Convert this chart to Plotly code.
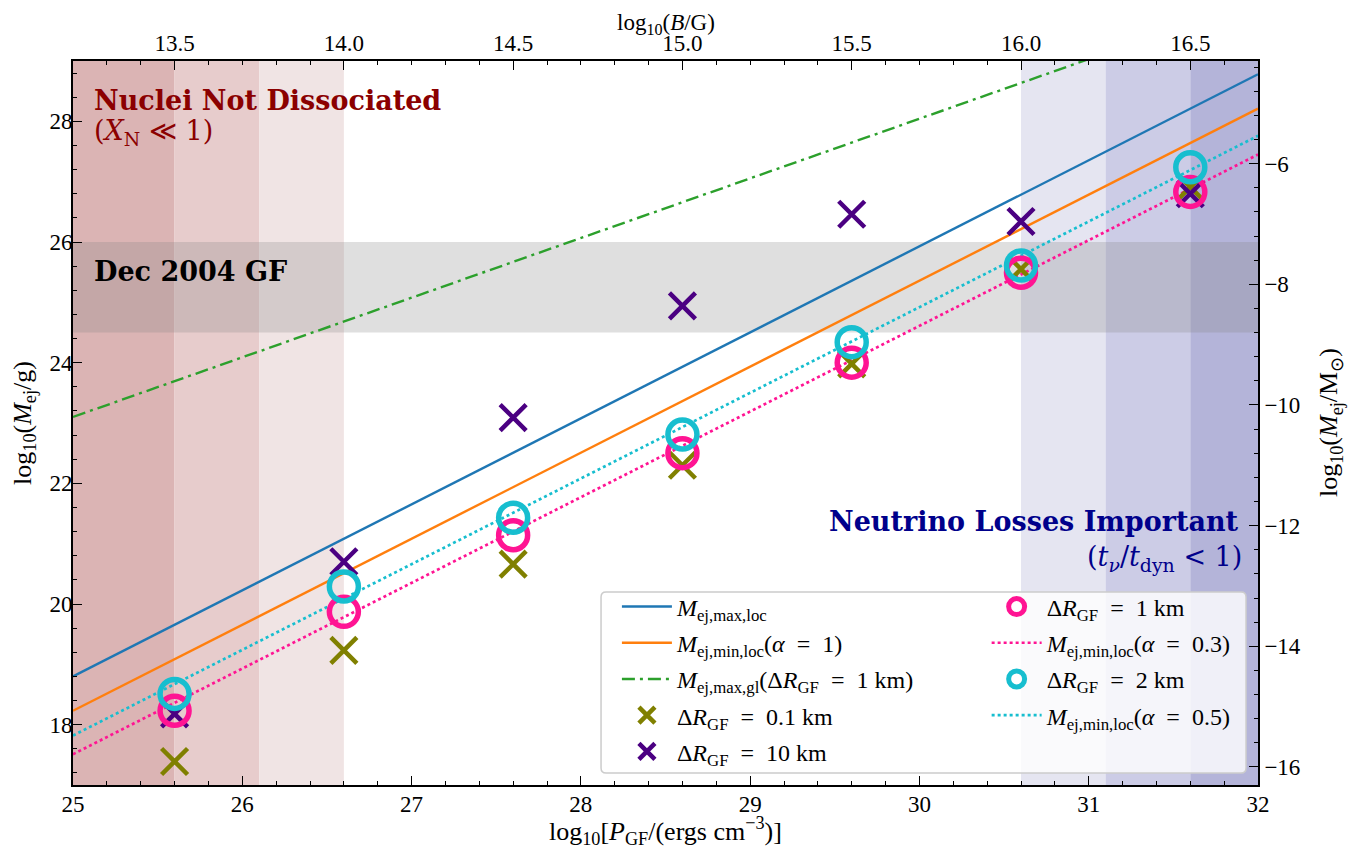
import plotly.graph_objects as go

# ---------------- data ----------------
P_MARK = [25.6, 26.6, 27.6, 28.6, 29.6, 30.6, 31.6]          # log10 P_GF of the simulated points
M_DR01 = [17.39, 19.23, 20.66, 22.30, 23.98, 25.55, 26.91]   # Delta R_GF = 0.1 km
M_DR10 = [18.18, 20.70, 23.09, 24.94, 26.46, 26.34, 26.80]   # Delta R_GF = 10 km
M_DR1 = [18.23, 19.87, 21.14, 22.50, 24.00, 25.49, 26.83]    # Delta R_GF = 1 km
M_DR2 = [18.51, 20.29, 21.43, 22.81, 24.34, 25.61, 27.24]    # Delta R_GF = 2 km

P_LINE = [25.0, 32.0]
M_MAX_LOC = [18.80, 28.78]
M_MIN_LOC_A1 = [18.23, 28.21]
M_MAX_GL = [23.10, 30.02]
M_MIN_LOC_A03 = [17.51, 27.45]
M_MIN_LOC_A05 = [17.82, 27.76]

P_RANGE = [25, 32]
B_RANGE = [13.2, 16.7]           # top axis, log10(B/G)
M_RANGE = [17, 29]
LOG_MSUN_G = 33.2986             # log10(M_sun / g)

NUCLEI_EDGES = [25.0, 25.6, 26.1, 26.6]      # red shaded bands (P)
NEUTRINO_EDGES = [30.6, 31.1, 31.6, 32.0]    # blue shaded bands (P)
GF2004_BAND = [24.5, 26.0]                   # Dec 2004 giant flare

RED_SHADES = ["rgb(219,180,180)", "rgb(231,204,204)", "rgb(240,228,228)"]
BLUE_SHADES = ["rgb(229,229,241)", "rgb(204,204,230)", "rgb(180,180,217)"]

FONT = "Liberation Serif"
BOLD_FONT = "DejaVu Serif"
EQ = "\u2002=\u2002"

X_TITLE = "log<sub>10</sub>[<i>P</i><sub>GF</sub>/(ergs cm<sup>−3</sup>)]"
X2_TITLE = "log<sub>10</sub>(<i>B</i>/G)"
Y_TITLE = "log<sub>10</sub>(<i>M</i><sub>ej</sub>/g)"
Y2_TITLE = "log<sub>10</sub>(<i>M</i><sub>ej</sub>/M<sub>⊙</sub>)"

fig = go.Figure()

# ---------------- lines ----------------
fig.add_trace(go.Scatter(x=P_LINE, y=M_MAX_LOC, mode="lines",
                         line=dict(color="#1f77b4", width=2.4),
                         name="<i>M</i><sub>ej,max,loc</sub>", legend="legend",
                         legendgroup="a", legendrank=1))
fig.add_trace(go.Scatter(x=P_LINE, y=M_MIN_LOC_A1, mode="lines",
                         line=dict(color="#ff7f0e", width=2.4),
                         name=f"<i>M</i><sub>ej,min,loc</sub>(<i>α</i>{EQ}1)", legend="legend",
                         legendgroup="b", legendrank=2))
fig.add_trace(go.Scatter(x=P_LINE, y=M_MAX_GL, mode="lines",
                         line=dict(color="#2ca02c", width=2.4, dash="13px,5px,3px,5px"),
                         name=f"<i>M</i><sub>ej,max,gl</sub>(Δ<i>R</i><sub>GF</sub>{EQ}1 km)", legend="legend",
                         legendgroup="c", legendrank=3))
fig.add_trace(go.Scatter(x=P_LINE, y=M_MIN_LOC_A03, mode="lines",
                         line=dict(color="#ff1493", width=2.7, dash="dot"),
                         name=f"<i>M</i><sub>ej,min,loc</sub>(<i>α</i>{EQ}0.3)", legend="legend2",
                         legendgroup="g", legendrank=7))
fig.add_trace(go.Scatter(x=P_LINE, y=M_MIN_LOC_A05, mode="lines",
                         line=dict(color="#17becf", width=2.7, dash="dot"),
                         name=f"<i>M</i><sub>ej,min,loc</sub>(<i>α</i>{EQ}0.5)", legend="legend2",
                         legendgroup="i", legendrank=9))

# ---------------- markers ----------------
fig.add_trace(go.Scatter(x=P_MARK, y=M_DR01, mode="markers",
                         marker=dict(symbol="x-thin", size=26, line=dict(color="olive", width=4.5)),
                         name=f"Δ<i>R</i><sub>GF</sub>{EQ}0.1 km", legend="legend",
                         legendgroup="d", legendrank=4))
fig.add_trace(go.Scatter(x=P_MARK, y=M_DR10, mode="markers",
                         marker=dict(symbol="x-thin", size=26, line=dict(color="indigo", width=4.5)),
                         name=f"Δ<i>R</i><sub>GF</sub>{EQ}10 km", legend="legend",
                         legendgroup="e", legendrank=5))
fig.add_trace(go.Scatter(x=P_MARK, y=M_DR1, mode="markers",
                         marker=dict(symbol="circle-open", size=29, color="#ff1493",
                                     line=dict(color="#ff1493", width=5.5)),
                         name=f"Δ<i>R</i><sub>GF</sub>{EQ}1 km", legend="legend2",
                         legendgroup="f", legendrank=6))
fig.add_trace(go.Scatter(x=P_MARK, y=M_DR2, mode="markers",
                         marker=dict(symbol="circle-open", size=29, color="#17becf",
                                     line=dict(color="#17becf", width=5.5)),
                         name=f"Δ<i>R</i><sub>GF</sub>{EQ}2 km", legend="legend2",
                         legendgroup="h", legendrank=8))

# invisible traces so the secondary axes are drawn
fig.add_trace(go.Scatter(x=B_RANGE, y=M_RANGE, xaxis="x2", yaxis="y", mode="markers",
                         marker=dict(opacity=0), showlegend=False, hoverinfo="skip"))
fig.add_trace(go.Scatter(x=P_RANGE, y=[m - LOG_MSUN_G for m in M_RANGE], xaxis="x", yaxis="y2",
                         mode="markers", marker=dict(opacity=0), showlegend=False, hoverinfo="skip"))

# ---------------- shaded regions ----------------
shapes = []
for i, col in enumerate(RED_SHADES):
    shapes.append(dict(type="rect", xref="x", yref="paper", x0=NUCLEI_EDGES[i], x1=NUCLEI_EDGES[i + 1],
                       y0=0, y1=1, fillcolor=col, line=dict(width=0), layer="below"))
for i, col in enumerate(BLUE_SHADES):
    shapes.append(dict(type="rect", xref="x", yref="paper", x0=NEUTRINO_EDGES[i], x1=NEUTRINO_EDGES[i + 1],
                       y0=0, y1=1, fillcolor=col, line=dict(width=0), layer="below"))
shapes.append(dict(type="rect", xref="paper", yref="y", x0=0, x1=1, y0=GF2004_BAND[0], y1=GF2004_BAND[1],
                   fillcolor="rgba(128,128,128,0.25)", line=dict(width=0), layer="below"))

# legend frame (rounded, semi-transparent)
lx0, lx1, ly0, ly1 = 0.4456, 0.9899, 0.0166, 0.2666
rx, ry = 5 / 1185, 5 / 724
path = (f"M {lx0+rx},{ly0} L {lx1-rx},{ly0} Q {lx1},{ly0} {lx1},{ly0+ry} "
        f"L {lx1},{ly1-ry} Q {lx1},{ly1} {lx1-rx},{ly1} "
        f"L {lx0+rx},{ly1} Q {lx0},{ly1} {lx0},{ly1-ry} "
        f"L {lx0},{ly0+ry} Q {lx0},{ly0} {lx0+rx},{ly0} Z")
shapes.append(dict(type="path", xref="paper", yref="paper", path=path,
                   fillcolor="rgba(255,255,255,0.8)", line=dict(color="rgb(204,204,204)", width=1.5),
                   layer="above"))

# ---------------- annotations ----------------
annotations = [
    dict(text="<b>Nuclei Not Dissociated</b>", xref="paper", yref="paper", x=0.0160, y=0.946,
         xanchor="left", yanchor="middle", showarrow=False,
         font=dict(family=BOLD_FONT, size=27, color="#8b0000")),
    dict(text="(<i>X</i><sub>N</sub> ≪ 1)", xref="paper", yref="paper", x=0.0160, y=0.901,
         xanchor="left", yanchor="middle", showarrow=False,
         font=dict(family=BOLD_FONT, size=27, color="#8b0000")),
    dict(text="<b>Dec 2004 GF</b>", xref="paper", yref="paper", x=0.0160, y=0.7086,
         xanchor="left", yanchor="middle", showarrow=False,
         font=dict(family=BOLD_FONT, size=27, color="black")),
    dict(text="<b>Neutrino Losses Important</b>", xref="paper", yref="paper", x=0.9855, y=0.3637,
         xanchor="right", yanchor="middle", showarrow=False,
         font=dict(family=BOLD_FONT, size=27, color="#00008b")),
    dict(text="(<i>t</i><sub><i>ν</i></sub>/<i>t</i><sub>dyn</sub> < 1)", xref="paper", yref="paper",
         x=0.9885, y=0.3135, xanchor="right", yanchor="middle", showarrow=False,
         font=dict(family=BOLD_FONT, size=27, color="#00008b")),
    # axis titles
    dict(text=X_TITLE, xref="paper", yref="paper", x=0.5, y=-0.0905, xanchor="center", yanchor="bottom",
         showarrow=False, font=dict(family=FONT, size=26, color="black")),
    dict(text=X2_TITLE, xref="paper", yref="paper", x=0.5, y=1.0735, xanchor="center", yanchor="top",
         showarrow=False, font=dict(family=FONT, size=23, color="black")),
    dict(text=Y_TITLE, xref="paper", yref="paper", x=-0.0414, y=0.5, xanchor="center", yanchor="middle",
         textangle=-90, showarrow=False, font=dict(family=FONT, size=26, color="black")),
    dict(text=Y2_TITLE, xref="paper", yref="paper", x=1.0608, y=0.5, xanchor="center", yanchor="middle",
         textangle=-90, showarrow=False, font=dict(family=FONT, size=26, color="black")),
]

axis_common = dict(ticks="inside", ticklen=9, tickwidth=1.3, tickcolor="black",
                   showline=True, linecolor="black", linewidth=1.6, showgrid=False,
                   zeroline=False, automargin=False,
                   tickfont=dict(family=FONT, size=23, color="black"))
minor_common = dict(ticks="inside", ticklen=4.5, tickwidth=1, tickcolor="black")

# the page body adds an 8 px margin: the figure is sized so that the plot area
# lands on the same pixels as in the reference and nothing scrolls
fig.update_layout(
    width=1352, height=840,
    margin=dict(l=65, r=102, t=53, b=63, autoexpand=False),
    plot_bgcolor="white", paper_bgcolor="white",
    font=dict(family=FONT, size=24, color="black"),
    shapes=shapes, annotations=annotations,
    xaxis=dict(range=P_RANGE, tick0=25, dtick=1, ticklabelstandoff=-2,
               minor=dict(tick0=25, dtick=0.2, **minor_common),
               **axis_common),
    xaxis2=dict(range=B_RANGE, overlaying="x", side="top", anchor="y", tick0=13.5, dtick=0.5,
                tickformat=".1f", ticklabelstandoff=-1,
                minor=dict(tick0=13.5, dtick=0.1, **minor_common),
                **axis_common),
    yaxis=dict(range=M_RANGE, tick0=18, dtick=2, ticklabelstandoff=-6,
               minor=dict(tick0=18, dtick=0.4, **minor_common),
               **axis_common),
    yaxis2=dict(range=[M_RANGE[0] - LOG_MSUN_G, M_RANGE[1] - LOG_MSUN_G], overlaying="y", side="right",
                anchor="x", tick0=-16, dtick=2,
                minor=dict(tick0=-16, dtick=0.4, **minor_common),
                **axis_common),
    legend=dict(x=0.459, y=0.277, xanchor="left", yanchor="top", bgcolor="rgba(0,0,0,0)",
                borderwidth=0, itemwidth=50, tracegroupgap=2, traceorder="grouped",
                font=dict(family=FONT, size=24, color="black")),
    legend2=dict(x=0.771, y=0.277, xanchor="left", yanchor="top", bgcolor="rgba(0,0,0,0)",
                 borderwidth=0, itemwidth=50, tracegroupgap=2, traceorder="grouped",
                 font=dict(family=FONT, size=24, color="black")),
    showlegend=True,
)

fig.write_html("out.html")
